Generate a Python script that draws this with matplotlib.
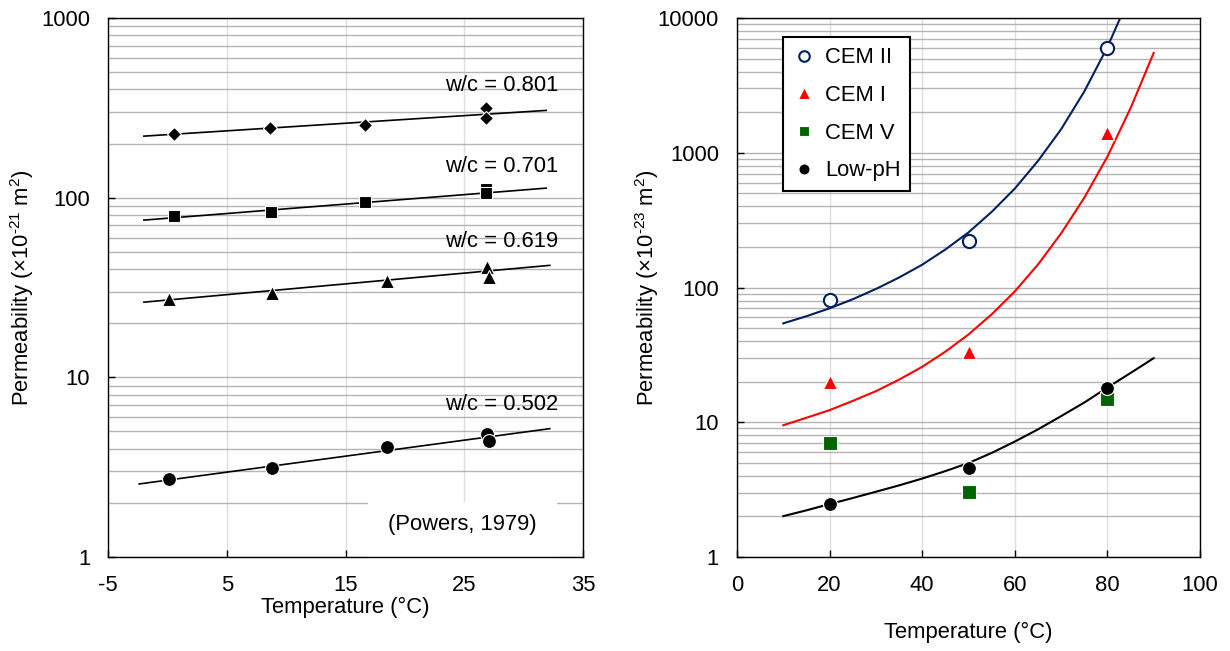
import matplotlib
matplotlib.use("Agg")
import matplotlib.pyplot as plt
from matplotlib import ticker
from matplotlib.patches import Rectangle

plt.rcParams['font.family'] = ['Liberation Sans', 'DejaVu Sans']
plt.rcParams['mathtext.fontset'] = 'custom'
plt.rcParams['mathtext.rm'] = 'Liberation Sans'
plt.rcParams['mathtext.it'] = 'Liberation Sans:italic'
plt.rcParams['mathtext.bf'] = 'Liberation Sans:bold'
plt.rcParams['mathtext.default'] = 'regular'
plt.rcParams['axes.unicode_minus'] = False

# ---------------- Left panel data (Powers, 1979) ----------------
t_801 = [0.5, 8.6, 16.6, 26.8, 26.8]
k_801 = [227, 245, 254, 314, 276]
t_701 = [26.8, 0.5, 8.7, 16.6, 26.8]
k_701 = [112, 79.3, 83.5, 94.2, 106.5]
t_619 = [0.1, 8.8, 18.5, 26.9, 27.1]
k_619 = [27.3, 29.5, 34.5, 41.3, 36.0]
t_502 = [0.15, 8.8, 18.5, 26.9, 27.1]
k_502 = [2.71, 3.12, 4.09, 4.83, 4.44]

fit_801_t = [-2.0, 31.9]
fit_801_k = [220, 306]
fit_701_t = [-2.0, 31.9]
fit_701_k = [75, 113]
fit_619_t = [-2.0, 32.2]
fit_619_k = [26.2, 42]
fit_502_t = [-2.4, 32.2]
fit_502_k = [2.55, 5.18]

left_xticks = [-5, 5, 15, 25, 35]
left_yticks = [1, 10, 100, 1000]
wc_labels = ['w/c = 0.801', 'w/c = 0.701', 'w/c = 0.619', 'w/c = 0.502']

# ---------------- Right panel data ----------------
t_meas = [20, 50, 80]
cem2 = [80.8, 221, 6000]
cem1 = [20, 33.2, 1400]
cem5 = [7.0, 3.04, 14.9]
lowph = [2.47, 4.57, 17.9]

t_fit = [10, 15, 20, 25, 30, 35, 40, 45, 50, 55, 60, 65, 70, 75, 80, 85, 90]
cem2_fit = [54.2, 61.2, 70.1, 81.8, 97.5, 118.6, 147.6, 191.4, 256.4, 363.9,
            542, 869, 1493, 2844, 6081, 14930, None]
cem1_fit = [9.5, 10.8, 12.3, 14.4, 17.0, 20.7, 25.8, 33.4, 44.8, 63.2, 93.5,
            148, 252, 463, 935, 2140, 5510]
lowph_fit = [2.01, 2.22, 2.47, 2.74, 3.05, 3.40, 3.82, 4.34, 4.98, 5.92, 7.19,
             8.85, 11.1, 14.0, 18.1, 23.2, 29.9]

right_xticks = [0, 20, 40, 60, 80, 100]
right_yticks = [1, 10, 100, 1000, 10000]

NAVY = '#002060'
RED = '#ff0000'
GREEN = '#006400'
FS = 15.8

fig = plt.figure(figsize=(12.3, 6.51), dpi=100)
W, H = 1230, 651
ax1 = fig.add_axes([108.3 / W, 1 - 557 / H, (583 - 108.3) / W, 539 / H])
ax2 = fig.add_axes([737 / W, 1 - 557 / H, (1200 - 737) / W, 539 / H])


def style(ax, xticks, yticks, xlim, ylim):
    ax.set_yscale('log')
    ax.set_xlim(*xlim)
    ax.set_ylim(*ylim)
    ax.set_xticks(xticks)
    ax.set_yticks(yticks)
    ax.xaxis.set_major_formatter(ticker.FuncFormatter(lambda v, p: f'{v:g}'))
    ax.yaxis.set_major_formatter(ticker.FuncFormatter(lambda v, p: f'{v:g}'))
    ax.yaxis.set_minor_locator(ticker.LogLocator(base=10, subs=range(2, 10)))
    ax.yaxis.set_minor_formatter(ticker.NullFormatter())
    ax.set_axisbelow(True)
    ax.grid(axis='y', which='both', color='#b4b4b4', lw=1.0)
    ax.grid(axis='x', which='major', color='#dedede', lw=1.0)
    ax.tick_params(axis='both', which='major', direction='in', length=5,
                   width=1, labelsize=FS, color='black')
    ax.tick_params(axis='y', which='major', pad=13)
    ax.tick_params(axis='x', which='major', pad=13)
    ax.tick_params(axis='y', which='minor', length=0)
    ax.tick_params(top=False, right=False)
    for s in ax.spines.values():
        s.set_linewidth(1.0)
        s.set_color('black')


# ---------- Left panel ----------
style(ax1, left_xticks, left_yticks, (-5, 35), (1, 1000))
for ft, fk in [(fit_801_t, fit_801_k), (fit_701_t, fit_701_k),
               (fit_619_t, fit_619_k), (fit_502_t, fit_502_k)]:
    ax1.plot(ft, fk, color='black', lw=1.2, zorder=2)
mk = dict(linestyle='none', color='black', mec='white', mew=0.8, zorder=3)
ax1.plot(t_801, k_801, marker='D', ms=7.6, **mk)
ax1.plot(t_701, k_701, marker='s', ms=9.2, **mk)
ax1.plot(t_619, k_619, marker='^', ms=10.5, **mk)
ax1.plot(t_502, k_502, marker='o', ms=10, **mk)

label_y = [419, 149.4, 57.1, 7.08]
for txt, yy in zip(wc_labels, label_y):
    ax1.text(32.9, yy, txt, ha='right', va='center', fontsize=FS, zorder=4)

ax1.add_patch(Rectangle((0.547, 0.0), 0.398, 0.102, transform=ax1.transAxes,
                        facecolor='white', edgecolor='none', zorder=1))
ax1.text(24.87, 1.526, '(Powers, 1979)', ha='center', va='center',
         fontsize=FS, zorder=4)

ax1.set_xlabel('Temperature (°C)', fontsize=FS)
ax1.set_ylabel(r'Permeability (×10$^{\text{-21}}$ m$^{2}$)', fontsize=FS)
ax1.xaxis.set_label_coords(0.5, -0.074)
ax1.yaxis.set_label_coords(-0.152, 0.5)

# ---------- Right panel ----------
style(ax2, right_xticks, right_yticks, (0, 100), (1, 10000))
t2 = [t for t, v in zip(t_fit, cem2_fit) if v is not None]
v2 = [v for v in cem2_fit if v is not None]
ax2.plot(t2, v2, color=NAVY, lw=1.5, zorder=2)
ax2.plot(t_fit, cem1_fit, color=RED, lw=1.5, zorder=2)
ax2.plot(t_fit, lowph_fit, color='black', lw=1.5, zorder=2)

ax2.plot(t_meas, cem2, linestyle='none', marker='o', ms=9.5, mfc='white',
         mec=NAVY, mew=1.5, zorder=3, label='CEM II')
ax2.plot(t_meas, cem1, linestyle='none', marker='^', ms=10.5, color=RED,
         mec='white', mew=0.8, zorder=3, label='CEM I')
ax2.plot(t_meas, cem5, linestyle='none', marker='s', ms=9.5, color=GREEN,
         mec='white', mew=0.8, zorder=3, label='CEM V')
ax2.plot(t_meas, lowph, linestyle='none', marker='o', ms=10, color='black',
         mec='white', mew=0.8, zorder=3.5, label='Low-pH')

leg = ax2.legend(loc='upper left', bbox_to_anchor=(0.1, 0.964), borderaxespad=0,
                 fontsize=FS, frameon=True, fancybox=False, edgecolor='black',
                 framealpha=1, handlelength=1.0, handletextpad=0.45,
                 labelspacing=0.76, borderpad=0.45, markerscale=0.8)
leg.get_frame().set_linewidth(1.5)
leg.set_zorder(5)

ax2.set_xlabel('Temperature (°C)', fontsize=FS)
ax2.set_ylabel(r'Permeability (×10$^{\text{-23}}$ m$^{2}$)', fontsize=FS)
ax2.xaxis.set_label_coords(0.5, -0.121)
ax2.yaxis.set_label_coords(-0.164, 0.5)

fig.savefig('out.png', dpi=100)
